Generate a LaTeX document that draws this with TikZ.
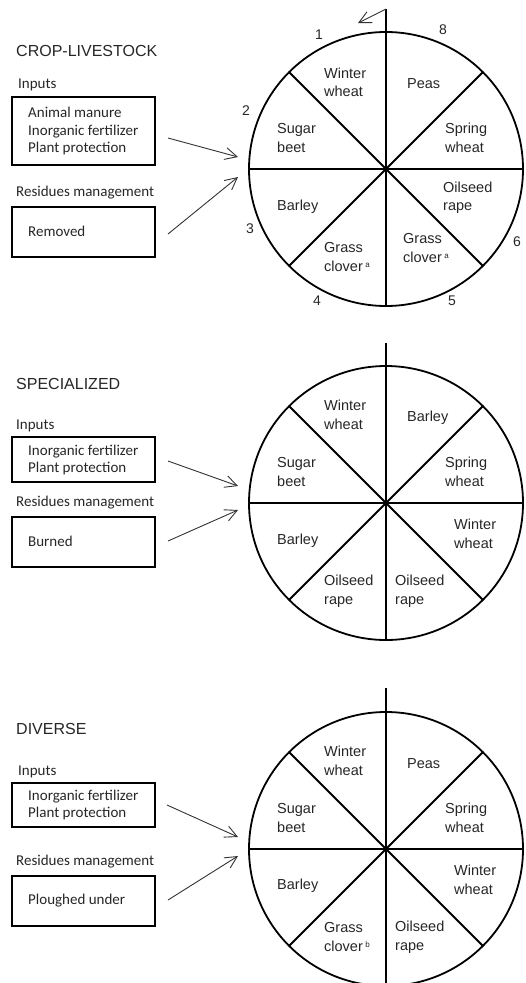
\documentclass[tikz,border=0pt]{standalone}
\usepackage{fontspec}
\setmainfont{Liberation Sans}
\newfontfamily\calfont{Carlito}
\usetikzlibrary{arrows.meta}
\newcommand\supa[1]{\,{\fontsize{8}{8}\selectfont\raisebox{3.5pt}{#1}}}
\begin{document}
\begin{tikzpicture}[x=1pt,y=-1pt,
 wheelline/.style={line width=1.8pt},
 wheel/.style={circle,draw,line width=1.8pt,minimum size=274pt,inner sep=0pt,outer sep=0pt},
 lab/.style={anchor=west,inner sep=0pt,align=left,font=\fontsize{14.5}{18.5}\selectfont,text=black!85},
 num/.style={inner sep=0pt,font=\fontsize{14}{14}\selectfont,text=black!85},
 ttl/.style={anchor=west,inner sep=0pt,font=\fontsize{16}{16}\selectfont,text=black!85},
 head/.style={anchor=west,inner sep=0pt,font=\calfont\fontsize{15}{15}\selectfont,text=black!85},
 boxtxt/.style={anchor=west,inner sep=0pt,align=left,font=\calfont\fontsize{15}{17.5}\selectfont,text=black!85},
 inbox/.style={draw,line width=1.8pt,minimum width=143pt,inner sep=0pt},
 feed/.style={-{Straight Barb[length=12pt,width=12pt]},line width=0.9pt,draw=black!80}
]
\useasboundingbox (0,0) rectangle (525,983);

% ---------- Section 1: CROP-LIVESTOCK ----------
\node[ttl] (t1) at (16,51) {CROP-LIVESTOCK};
\node[head] (i1) at (18,85) {Inputs};
\node[inbox,minimum height=68pt] (b1) at (83.5,131) {};
\node[boxtxt] (b1t) at (28,131) {Animal manure\\Inorganic fertilizer\\Plant protection};
\node[head] (r1) at (16,193) {Residues management};
\node[inbox,minimum height=50pt] (c1) at (83.5,232) {};
\node[boxtxt] (c1t) at (28,231) {Removed};
\coordinate (a1s) at (168,138); \coordinate (a1e) at (238,157);
\coordinate (a2s) at (168,234); \coordinate (a2e) at (238,177);
\draw[feed] (a1s) -- (a1e);
\draw[feed] (a2s) -- (a2e);

\node[wheel] (w1) at (386,169) {};
\coordinate (w1top) at (386,9); \coordinate (w1arr) at (358,23);
\draw[wheelline] (w1top) -- (w1.south);
\draw[wheelline] (w1.west) -- (w1.east);
\draw[wheelline] (w1.135) -- (w1.-45);
\draw[wheelline] (w1.45) -- (w1.-135);
\draw[feed] (w1top) -- (w1arr);
\node[lab] (w1a) at (324,82.5) {Winter\\wheat};
\node[lab] (w1b) at (407,84) {Peas};
\node[lab] (w1c) at (277,138) {Sugar\\beet};
\node[lab] (w1d) at (445,138) {Spring\\wheat};
\node[lab] (w1e) at (277,207) {Barley};
\node[lab] (w1f) at (443,197.5) {Oilseed\\rape};
\node[lab] (w1g) at (324,257) {Grass\\clover\supa{a}};
\node[lab] (w1h) at (403,248) {Grass\\clover\supa{a}};
\node[num] (n1) at (319,35) {1};
\node[num] (n8) at (443,30) {8};
\node[num] (n2) at (246,111) {2};
\node[num] (n3) at (250,229) {3};
\node[num] (n4) at (317,301) {4};
\node[num] (n5) at (452,301) {5};
\node[num] (n6) at (517,242) {6};

% ---------- Section 2: SPECIALIZED ----------
\node[ttl] (t2) at (16,384) {SPECIALIZED};
\node[head] (i2) at (16,426) {Inputs};
\node[inbox,minimum height=45pt] (b2) at (83.5,459.5) {};
\node[boxtxt] (b2t) at (28,460) {Inorganic fertilizer\\Plant protection};
\node[head] (r2) at (16,503) {Residues management};
\node[inbox,minimum height=50pt] (c2) at (83.5,542) {};
\node[boxtxt] (c2t) at (28,541) {Burned};
\coordinate (a3s) at (168,461); \coordinate (a3e) at (238,486);
\coordinate (a4s) at (168,541); \coordinate (a4e) at (238,510);
\draw[feed] (a3s) -- (a3e);
\draw[feed] (a4s) -- (a4e);

\node[wheel] (w2) at (386,503) {};
\coordinate (w2top) at (386,343);
\draw[wheelline] (w2top) -- (w2.south);
\draw[wheelline] (w2.west) -- (w2.east);
\draw[wheelline] (w2.135) -- (w2.-45);
\draw[wheelline] (w2.45) -- (w2.-135);
\node[lab] (w2a) at (324,415) {Winter\\wheat};
\node[lab] (w2b) at (407,418) {Barley};
\node[lab] (w2c) at (277,472) {Sugar\\beet};
\node[lab] (w2d) at (445,472) {Spring\\wheat};
\node[lab] (w2e) at (277,541) {Barley};
\node[lab] (w2f) at (454,534) {Winter\\wheat};
\node[lab] (w2g) at (324,591) {Oilseed\\rape};
\node[lab] (w2h) at (395,591) {Oilseed\\rape};

% ---------- Section 3: DIVERSE ----------
\node[ttl] (t3) at (16,729) {DIVERSE};
\node[head] (i3) at (18,772) {Inputs};
\node[inbox,minimum height=44pt] (b3) at (83.5,805) {};
\node[boxtxt] (b3t) at (28,805) {Inorganic fertilizer\\Plant protection};
\node[head] (r3) at (16,862) {Residues management};
\node[inbox,minimum height=50pt] (c3) at (83.5,901) {};
\node[boxtxt] (c3t) at (28,901) {Ploughed under};
\coordinate (a5s) at (167,805); \coordinate (a5e) at (238,837);
\coordinate (a6s) at (168,900); \coordinate (a6e) at (238,856);
\draw[feed] (a5s) -- (a5e);
\draw[feed] (a6s) -- (a6e);

\node[wheel] (w3) at (386,849) {};
\coordinate (w3top) at (386,688);
\draw[wheelline] (w3top) -- (w3.south);
\draw[wheelline] (w3.west) -- (w3.east);
\draw[wheelline] (w3.135) -- (w3.-45);
\draw[wheelline] (w3.45) -- (w3.-135);
\node[lab] (w3a) at (324,761) {Winter\\wheat};
\node[lab] (w3b) at (407,764) {Peas};
\node[lab] (w3c) at (277,818) {Sugar\\beet};
\node[lab] (w3d) at (445,818) {Spring\\wheat};
\node[lab] (w3e) at (277,886) {Barley};
\node[lab] (w3f) at (454,880) {Winter\\wheat};
\node[lab] (w3g) at (324,937) {Grass\\clover\supa{b}};
\node[lab] (w3h) at (395,937) {Oilseed\\rape};
\end{tikzpicture}
\end{document}
